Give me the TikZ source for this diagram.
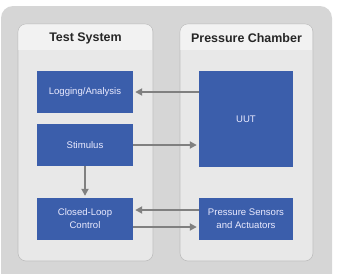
\documentclass[tikz,border=0pt]{standalone}
\usepackage{fontspec}
\setmainfont{Liberation Sans}
\usepackage{xcolor}
\usetikzlibrary{arrows.meta}
\definecolor{outergray}{rgb}{0.84,0.84,0.84}
\definecolor{panelgray}{rgb}{0.91,0.91,0.91}
\definecolor{headgray}{rgb}{0.95,0.95,0.95}
\definecolor{boxblue}{rgb}{0.23,0.37,0.67}
\definecolor{arrowgray}{rgb}{0.50,0.50,0.50}

\begin{document}
\begin{tikzpicture}[
  x=1bp, y=-1bp,
  panel/.style={
    draw=black!25, line width=0.6pt, fill=panelgray, rounded corners=8bp
  },
  head/.style={font=\bfseries\fontsize{12.5}{14}\selectfont, text=black!85},
  blk/.style={
    fill=boxblue, minimum width=96bp, minimum height=42bp,
    align=center, text=white!92!blue, font=\fontsize{9.6}{13}\selectfont,
    inner sep=0pt
  },
  arr/.style={-{Triangle[length=7bp, width=7bp]}, line width=2.4bp, arrowgray},
]

%% ---- Background ----
\useasboundingbox (0,0) rectangle (339,274);
\fill[outergray, rounded corners=12bp] (1,6) rectangle (332,290);

%% ---- Panels ----
\draw[panel] (18,24) rectangle (153,261);
\draw[panel] (180,24) rectangle (313,261);
\begin{scope}
  \clip[rounded corners=8bp] (18.3,24.3) rectangle (152.7,60);
  \fill[headgray] (18,24) rectangle (153,50);
\end{scope}
\begin{scope}
  \clip[rounded corners=8bp] (180.3,24.3) rectangle (312.7,60);
  \fill[headgray] (180,24) rectangle (313,50);
\end{scope}
\node[head] (tshead) at (85.5,38) {Test System};
\node[head] (pchead) at (246.5,38) {Pressure Chamber};

%% ---- Test system blocks ----
\node[blk] (log)  at (85,92)  {Logging/Analysis};
\node[blk] (stim) at (85,145) {Stimulus};
\node[blk] (ctrl) at (85,219) {Closed-Loop\\Control};

%% ---- Pressure chamber blocks ----
\node[blk, minimum width=94bp, minimum height=96bp] (uut) at (246,119) {UUT};
\node[blk, minimum width=94bp] (sens) at (246,219) {Pressure Sensors\\and Actuators};

%% ---- Arrows ----
\draw[arr] (uut.west |- log.east) -- ([xshift=2bp]log.east);
\draw[arr] (stim.east) -- ([xshift=-2bp]uut.west |- stim.east);
\draw[arr] (stim.south) -- ([yshift=2bp]ctrl.north);
\draw[arr] ([yshift=9bp]sens.west) -- ([xshift=2bp, yshift=9bp]ctrl.east);
\draw[arr] ([yshift=-8bp]ctrl.east) -- ([xshift=-2bp, yshift=-8bp]sens.west);

\end{tikzpicture}
\end{document}
